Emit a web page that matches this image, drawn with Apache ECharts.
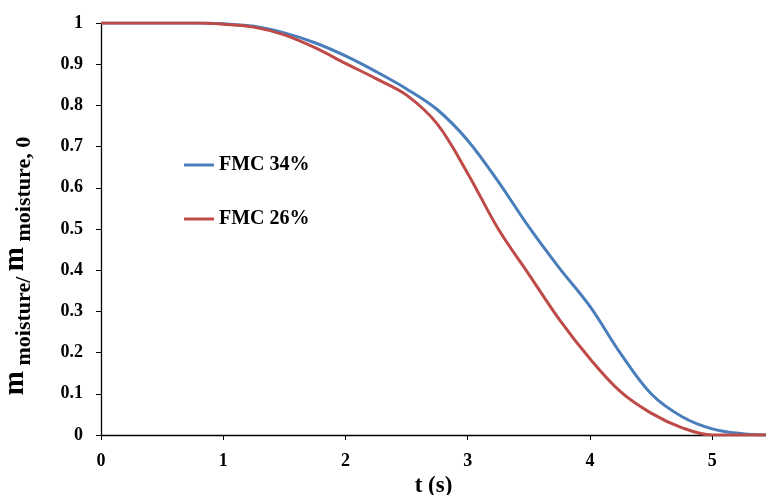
<!DOCTYPE html>
<html>
<head>
<meta charset="utf-8">
<script src="https://cdn.jsdelivr.net/npm/echarts@6/dist/echarts.min.js"></script>
<style>
  html, body { margin: 0; padding: 0; background: #fff; }
  #chart { width: 766px; height: 495px; }
</style>
</head>
<body>
<div id="chart"></div>
<script>
// time (s)
var tValues = [0, 0.5, 0.8, 1, 1.25, 1.5, 1.75, 2, 2.25, 2.5, 2.75, 3, 3.25, 3.5, 3.75, 4, 4.25, 4.5, 4.75, 5, 5.25, 5.44];
// m_moisture / m_moisture,0
var fmc34 = [1, 1, 1, 0.998, 0.992, 0.976, 0.952, 0.92, 0.882, 0.84, 0.79, 0.715, 0.615, 0.505, 0.405, 0.312, 0.198, 0.1, 0.045, 0.015, 0.003, 0];
var fmc26 = [1, 1, 1, 0.997, 0.99, 0.971, 0.94, 0.902, 0.865, 0.825, 0.755, 0.635, 0.5, 0.39, 0.28, 0.185, 0.105, 0.053, 0.018, 0, 0, 0];
var xTicks = [0, 1, 2, 3, 4, 5];

function pairs(ys) {
  return tValues.map(function (t, i) { return [t, ys[i]]; });
}

var font = '"Liberation Serif", "Times New Roman", serif';
var chart = echarts.init(document.getElementById('chart'));

var option = {
  backgroundColor: '#fff',
  animation: false,
  grid: { left: 101, right: 0, top: 23, bottom: 60, outerBoundsMode: 'none' },
  legend: {
    orient: 'vertical',
    left: 184,
    top: 155,
    padding: 0,
    itemWidth: 30,
    itemHeight: 14,
    itemGap: 34,
    icon: 'path://M0,0 L30,0 L30,3 L0,3 Z',
    textStyle: { fontFamily: font, fontWeight: 'bold', fontSize: 20, color: '#000' },
    data: ['FMC 34%', 'FMC 26%']
  },
  xAxis: {
    type: 'value',
    min: 0,
    max: 5.44,
    name: 't (s)',
    nameLocation: 'middle',
    nameGap: 35,
    nameTextStyle: { fontFamily: font, fontWeight: 'bold', fontSize: 23, color: '#000' },
    axisLine: { lineStyle: { color: '#000', width: 1.3 } },
    axisTick: { inside: false, length: 5, customValues: xTicks, lineStyle: { color: '#000' } },
    axisLabel: { customValues: xTicks, margin: 17, fontFamily: font, fontWeight: 'bold', fontSize: 18, color: '#000' },
    splitLine: { show: false }
  },
  yAxis: {
    type: 'value',
    min: 0,
    max: 1,
    interval: 0.1,
    name: '{m|m}{s| moisture/ }{m|m}{s| moisture, 0}',
    nameLocation: 'middle',
    nameRotate: 90,
    nameGap: 66,
    nameTextStyle: {
      fontFamily: font, fontWeight: 'bold', color: '#000',
      padding: [0, 74, 0, 0],
      rich: {
        m: { fontFamily: font, fontWeight: 'bold', fontSize: 29, lineHeight: 34, verticalAlign: 'bottom', padding: [0, 0, 5, 0] },
        s: { fontFamily: font, fontWeight: 'bold', fontSize: 22, lineHeight: 34, verticalAlign: 'bottom' }
      }
    },
    axisLine: { show: true, lineStyle: { color: '#000', width: 1.3 } },
    axisTick: { show: true, inside: false, length: 5, lineStyle: { color: '#000' } },
    axisLabel: { margin: 18, fontFamily: font, fontWeight: 'bold', fontSize: 18, color: '#000' },
    splitLine: { show: false }
  },
  series: [
    {
      name: 'FMC 34%',
      type: 'line',
      data: pairs(fmc34),
      smooth: 0.35,
      symbol: 'none',
      lineStyle: { color: '#4a7ebb', width: 3 },
      itemStyle: { color: '#4a7ebb' }
    },
    {
      name: 'FMC 26%',
      type: 'line',
      data: pairs(fmc26),
      smooth: 0.35,
      symbol: 'none',
      lineStyle: { color: '#be4b48', width: 3 },
      itemStyle: { color: '#be4b48' }
    }
  ]
};

chart.setOption(option);
</script>
</body>
</html>
